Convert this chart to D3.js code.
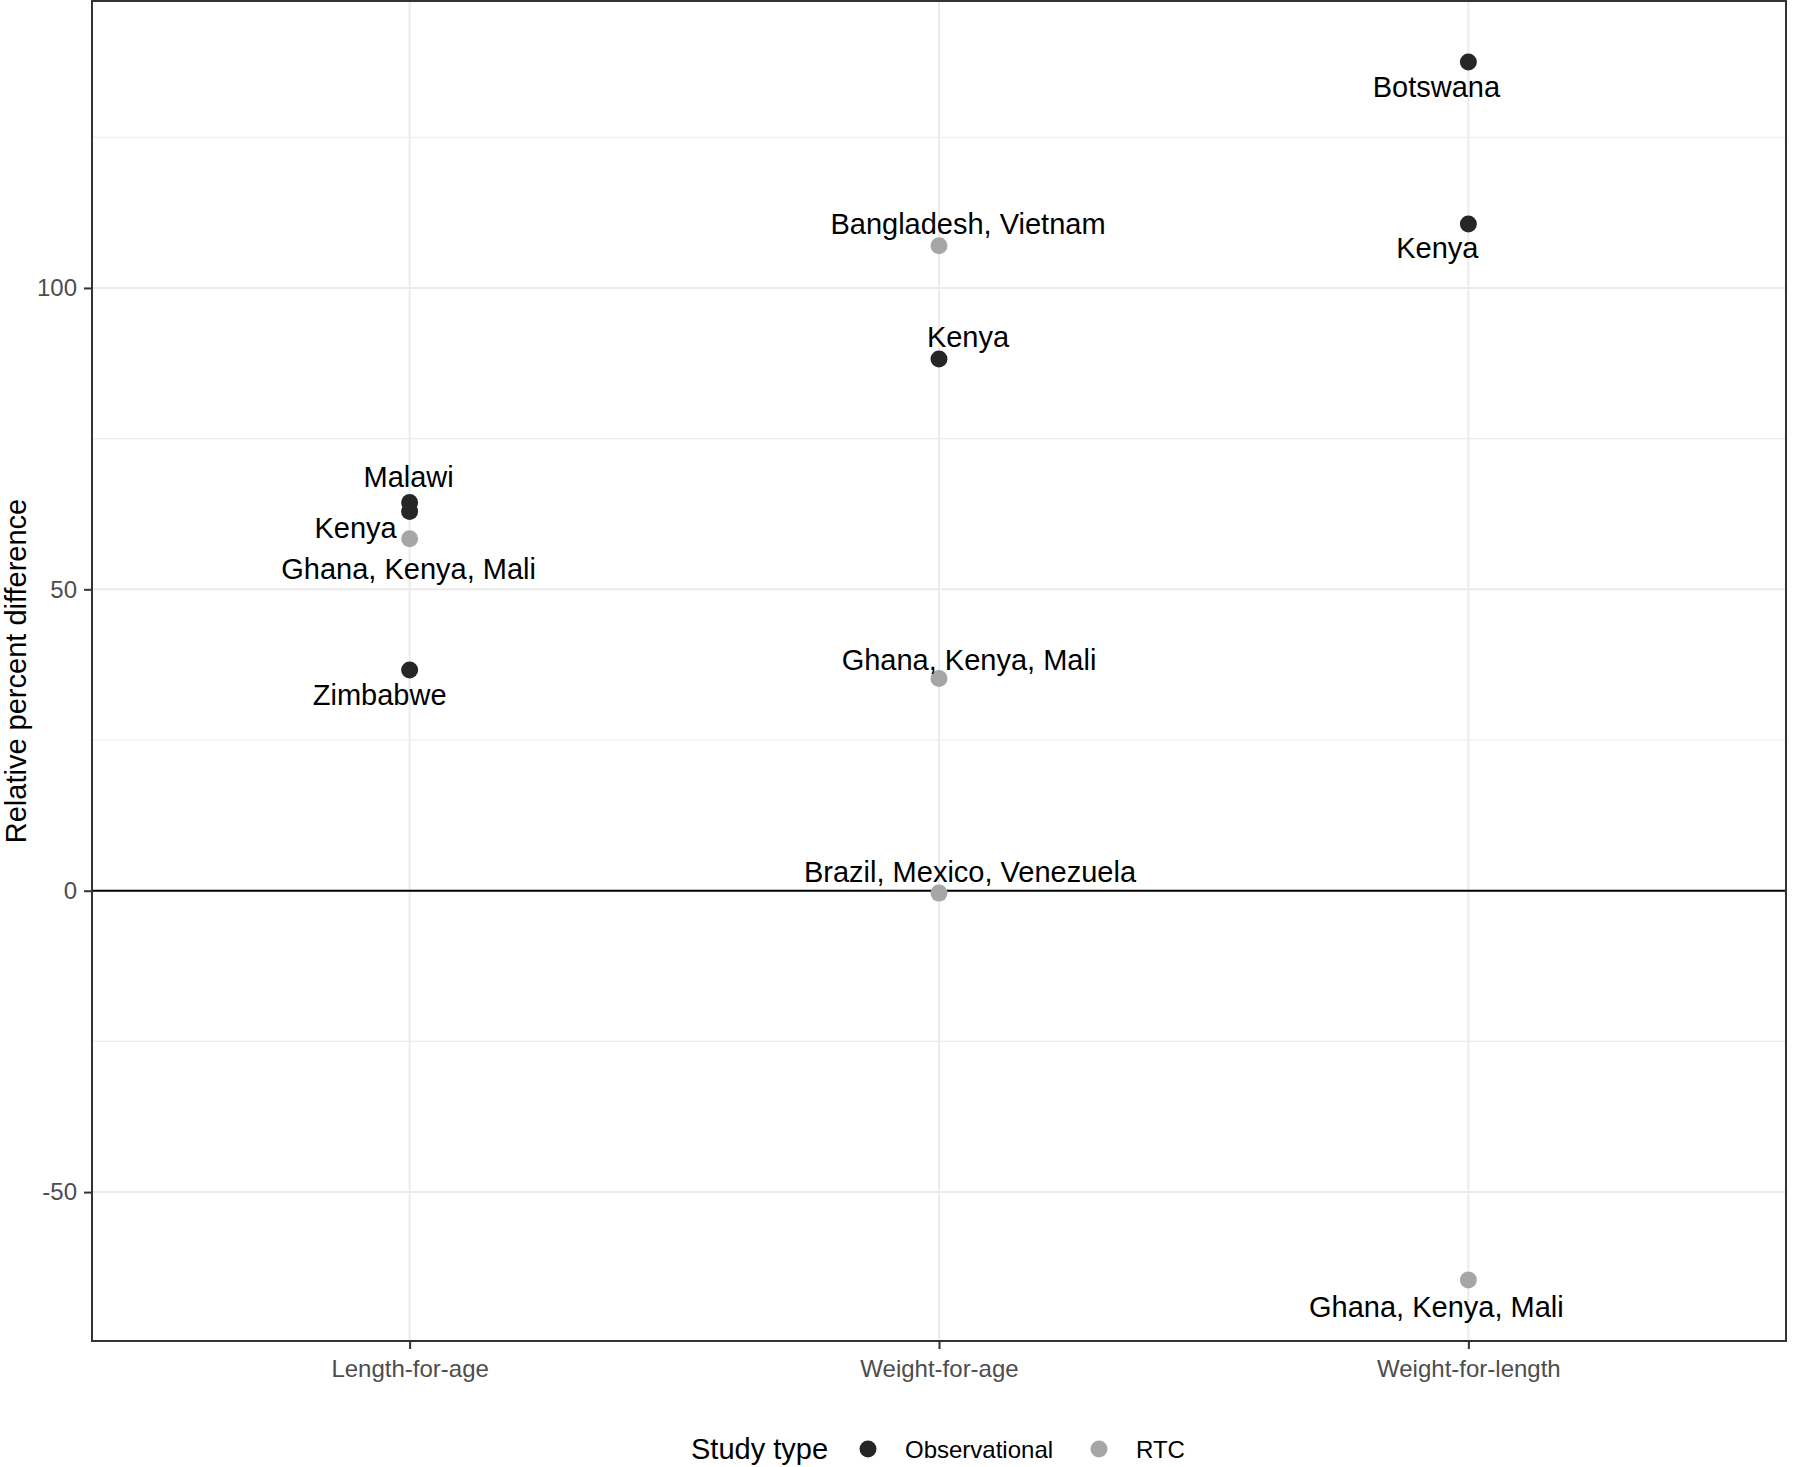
<!DOCTYPE html>
<html lang="en">
	<head>
		<meta charset="utf-8">
		<title>Relative percent difference</title>
		<script type="text/javascript" src="https://cdn.jsdelivr.net/npm/d3@7"></script>
		<style>
			body{
				margin:0;
				background-color:white;
			}
			text{
				font-family:"Liberation Sans", Arial, sans-serif;
			}
		</style>
	</head>
	
	<body>
		<div id="chart"></div>

		<script type="text/javascript">
			
			// data
			var indicators = ["Length-for-age","Weight-for-age","Weight-for-length"]
			var studyTypes = ["Observational","RTC"]
			
			var pointIndicator = ["Length-for-age","Length-for-age","Length-for-age","Length-for-age",
				"Weight-for-age","Weight-for-age","Weight-for-age","Weight-for-age",
				"Weight-for-length","Weight-for-length","Weight-for-length"]
			var pointValue = [64.4, 62.9, 58.4, 36.6, 107.0, 88.2, 35.2, -0.4, 137.5, 110.6, -64.6]
			var pointType = ["Observational","Observational","RTC","Observational",
				"RTC","Observational","RTC","RTC",
				"Observational","Observational","RTC"]
			var pointLabel = ["Malawi","Kenya","Ghana, Kenya, Mali","Zimbabwe",
				"Bangladesh, Vietnam","Kenya","Ghana, Kenya, Mali","Brazil, Mexico, Venezuela",
				"Botswana","Kenya","Ghana, Kenya, Mali"]
			
			var yTicks = [-50, 0, 50, 100]
			var yMinorTicks = [-75, -25, 25, 75, 125]
			
			// where each label was pushed away from its point (pixels)
			var labelDx = [-1, -54, -1, -30, 29, 29, 30, 31, -32, -31, -32]
			var labelDy = [-26, 16, 30, 24, -22, -23, -19, -22, 25, 24, 26]
			
			var data = []
			for(var i=0; i<pointValue.length; i++){
				data.push({
					indicator:pointIndicator[i],
					value:pointValue[i],
					type:pointType[i],
					label:pointLabel[i],
					dx:labelDx[i],
					dy:labelDy[i]
				})
			}
			
			var W = 1800
			var H = 1467
			var pLeft = 92
			var pRight = 1786
			var pTop = 1
			var pBottom = 1341
			
			var colors = d3.scaleOrdinal()
			.domain(studyTypes)
			.range(["#262626","#a6a6a6"])
			
			// ggplot style expansion of the y range
			var yMin = d3.min(pointValue)
			var yMax = d3.max(pointValue)
			var pad = (yMax-yMin)*0.05
			var yScale = d3.scaleLinear()
			.domain([yMin-pad, yMax+pad])
			.range([pBottom, pTop])
			
			var xScale = d3.scalePoint()
			.domain(indicators)
			.range([pLeft, pRight])
			.padding(0.6)
			
			var svg = d3.select("#chart").append("svg")
			.attr("width",W)
			.attr("height",H)
			
			svg.append("rect")
			.attr("width",W)
			.attr("height",H)
			.attr("fill","white")
			
			// grid
			var grid = svg.append("g")
			
			grid.selectAll(".minor")
			.data(yMinorTicks.filter(function(d){ return yScale(d)>pTop && yScale(d)<pBottom }))
			.enter()
			.append("line")
			.attr("x1",pLeft)
			.attr("x2",pRight)
			.attr("y1",function(d){ return yScale(d) })
			.attr("y2",function(d){ return yScale(d) })
			.attr("stroke","#ebebeb")
			.attr("stroke-width",1.2)
			
			grid.selectAll(".major")
			.data(yTicks)
			.enter()
			.append("line")
			.attr("x1",pLeft)
			.attr("x2",pRight)
			.attr("y1",function(d){ return yScale(d) })
			.attr("y2",function(d){ return yScale(d) })
			.attr("stroke","#ebebeb")
			.attr("stroke-width",2)
			
			grid.selectAll(".vmajor")
			.data(indicators)
			.enter()
			.append("line")
			.attr("x1",function(d){ return xScale(d) })
			.attr("x2",function(d){ return xScale(d) })
			.attr("y1",pTop)
			.attr("y2",pBottom)
			.attr("stroke","#ebebeb")
			.attr("stroke-width",2)
			
			// zero line
			svg.append("line")
			.attr("x1",pLeft)
			.attr("x2",pRight)
			.attr("y1",yScale(0))
			.attr("y2",yScale(0))
			.attr("stroke","black")
			.attr("stroke-width",2)
			
			// points
			svg.selectAll("circle.pt")
			.data(data)
			.enter()
			.append("circle")
			.attr("class","pt")
			.attr("cx",function(d){ return xScale(d.indicator) })
			.attr("cy",function(d){ return yScale(d.value) })
			.attr("r",8.5)
			.attr("fill",function(d){ return colors(d.type) })
			
			// labels
			svg.selectAll("text.lab")
			.data(data)
			.enter()
			.append("text")
			.attr("class","lab")
			.attr("x",function(d){ return xScale(d.indicator)+d.dx })
			.attr("y",function(d){ return yScale(d.value)+d.dy })
			.attr("dy","0.36em")
			.attr("text-anchor","middle")
			.attr("font-size",29)
			.attr("fill","black")
			.text(function(d){ return d.label })
			
			// panel border
			svg.append("rect")
			.attr("x",pLeft)
			.attr("y",pTop)
			.attr("width",pRight-pLeft)
			.attr("height",pBottom-pTop)
			.attr("fill","none")
			.attr("stroke","#333333")
			.attr("stroke-width",2)
			
			// axes
			var yAxis = d3.axisLeft()
			.scale(yScale)
			.tickValues(yTicks)
			.tickFormat(function(d){ return String(d) })
			.tickSize(8)
			.tickPadding(7)
			
			var gy = svg.append("g")
			.attr("transform","translate("+pLeft+",0)")
			.call(yAxis)
			gy.select(".domain").remove()
			gy.selectAll("line").attr("stroke","#333333").attr("stroke-width",2)
			gy.selectAll("text")
			.attr("font-size",24)
			.attr("fill","#4d4d4d")
			.attr("font-family","Liberation Sans, Arial, sans-serif")
			
			var xAxis = d3.axisBottom()
			.scale(xScale)
			.tickSize(8)
			.tickPadding(11)
			
			var gx = svg.append("g")
			.attr("transform","translate(0,"+pBottom+")")
			.call(xAxis)
			gx.select(".domain").remove()
			gx.selectAll("line").attr("stroke","#333333").attr("stroke-width",2)
			gx.selectAll("text")
			.attr("font-size",24)
			.attr("fill","#4d4d4d")
			.attr("font-family","Liberation Sans, Arial, sans-serif")
			
			// y title
			svg.append("text")
			.attr("transform","translate(26,"+((pTop+pBottom)/2)+") rotate(-90)")
			.attr("text-anchor","middle")
			.attr("font-size",29)
			.attr("fill","black")
			.text("Relative percent difference")
			
			// legend
			var legend = svg.append("g")
			.attr("transform","translate(0,1449)")
			
			legend.append("text")
			.attr("x",691)
			.attr("dy","0.36em")
			.attr("font-size",29)
			.attr("fill","black")
			.text("Study type")
			
			var keyX = [868, 1099]
			var keys = legend.selectAll("g.key")
			.data(studyTypes)
			.enter()
			.append("g")
			.attr("class","key")
			.attr("transform",function(d,i){ return "translate("+keyX[i]+",0)" })
			
			keys.append("circle")
			.attr("r",8.5)
			.attr("fill",function(d){ return colors(d) })
			
			keys.append("text")
			.attr("x",37)
			.attr("dy","0.36em")
			.attr("font-size",24)
			.attr("fill","black")
			.text(function(d){ return d })
			
		</script>
	</body>
</html>
